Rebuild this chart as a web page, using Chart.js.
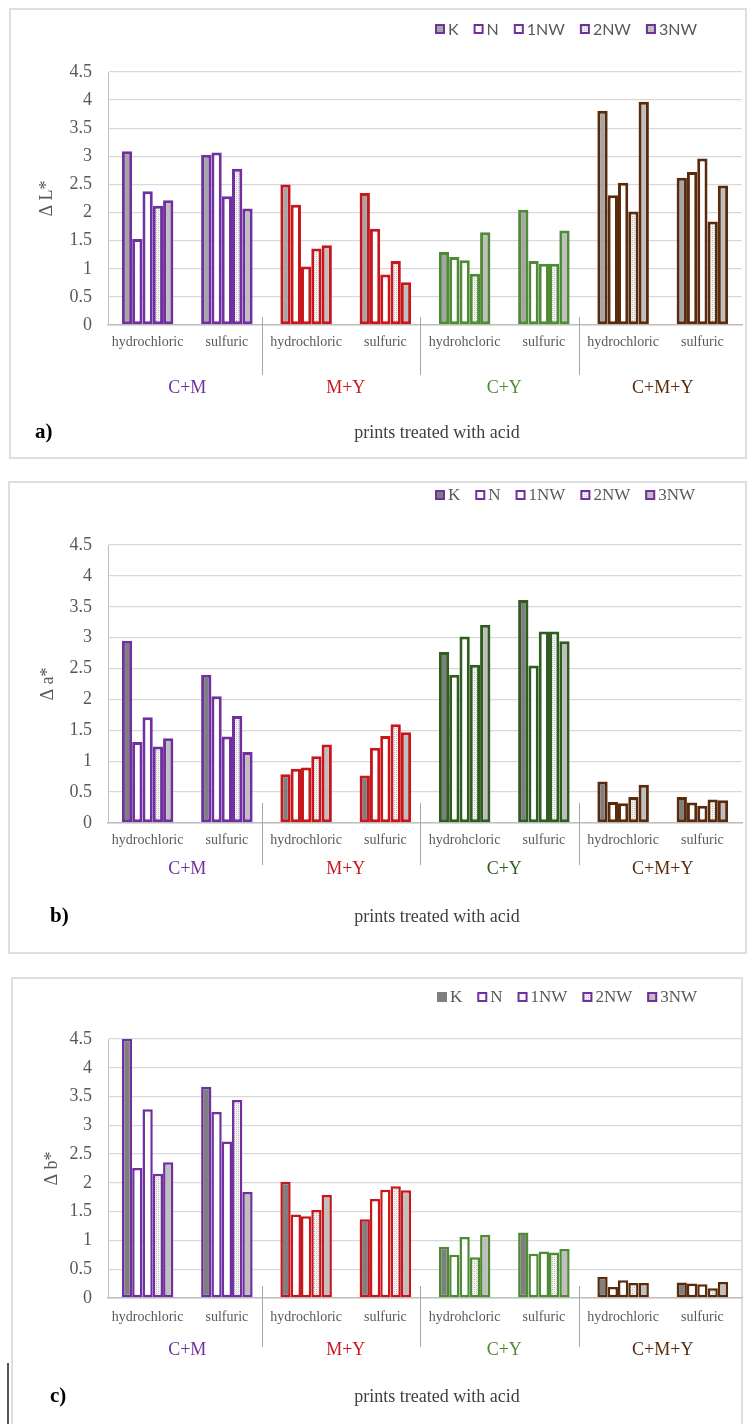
<!DOCTYPE html>
<html>
<head>
<meta charset="utf-8">
<script src="https://cdn.jsdelivr.net/npm/chart.js@4.4.1/dist/chart.umd.min.js"></script>
<style>
  body { margin: 0; background: #fff; width: 748px; height: 1424px; position: relative; overflow: hidden; }
  .panel { position: absolute; border: 2px solid #dedede; box-sizing: border-box; }
  canvas { position: absolute; left: 0; }
  .mark { position: absolute; left: 7px; top: 1363px; width: 2px; height: 61px; background: #555; }
</style>
</head>
<body>
<div class="panel" style="left:9px;top:8px;width:738px;height:451px;"></div>
<div class="panel" style="left:8px;top:481px;width:739px;height:473px;"></div>
<div class="panel" style="left:11px;top:977px;width:732px;height:470px;"></div>
<div class="mark"></div>
<canvas id="chart-a" width="748" height="450" style="top:8px;"></canvas>
<canvas id="chart-b" width="748" height="471" style="top:482px;"></canvas>
<canvas id="chart-c" width="748" height="447" style="top:977px;"></canvas>
<script>
/* Colour change of prints treated with acid: ΔL*, Δa*, Δb* */

var CATEGORIES = ['hydrochloric', 'sulfuric', 'hydrochloric', 'sulfuric',
                  'hydrohcloric', 'sulfuric', 'hydrochloric', 'sulfuric'];
var GROUPS = ['C+M', 'M+Y', 'C+Y', 'C+M+Y'];
var SERIES = ['K', 'N', '1NW', '2NW', '3NW'];
var Y_MAX = 4.5;
var Y_STEP = 0.5;

// a) ΔL*
var DL_K   = [3.09, 3.03, 2.50, 2.35, 1.30, 2.05, 3.81, 2.62];
var DL_N   = [1.53, 3.07, 2.14, 1.71, 1.21, 1.14, 2.31, 2.72];
var DL_1NW = [2.38, 2.29, 1.04, 0.90, 1.15, 1.09, 2.53, 2.96];
var DL_2NW = [2.12, 2.78, 1.36, 1.14, 0.91, 1.09, 2.02, 1.84];
var DL_3NW = [2.22, 2.07, 1.42, 0.76, 1.65, 1.68, 3.97, 2.48];

// b) Δa*
var DA_K   = [2.95, 2.40, 0.79, 0.77, 2.77, 3.61, 0.67, 0.42];
var DA_N   = [1.31, 2.05, 0.88, 1.22, 2.40, 2.55, 0.34, 0.33];
var DA_1NW = [1.71, 1.40, 0.90, 1.41, 3.02, 3.10, 0.32, 0.28];
var DA_2NW = [1.24, 1.73, 1.08, 1.60, 2.56, 3.10, 0.42, 0.38];
var DA_3NW = [1.37, 1.15, 1.27, 1.47, 3.21, 2.94, 0.62, 0.37];

// c) Δb*
var DB_K   = [4.50, 3.67, 2.02, 1.37, 0.89, 1.14, 0.37, 0.27];
var DB_N   = [2.26, 3.23, 1.45, 1.72, 0.75, 0.77, 0.19, 0.25];
var DB_1NW = [3.28, 2.72, 1.42, 1.88, 1.06, 0.81, 0.31, 0.24];
var DB_2NW = [2.16, 3.44, 1.53, 1.94, 0.71, 0.79, 0.26, 0.17];
var DB_3NW = [2.36, 1.84, 1.79, 1.87, 1.10, 0.85, 0.26, 0.28];

var SERIF = '"Liberation Serif", "DejaVu Serif", serif';
var PURPLE = '#7030a0';
var TEXT = '#595959';

function makeHatch() {
    var c = document.createElement('canvas');
    c.width = 4; c.height = 4;
    var g = c.getContext('2d');
    g.fillStyle = '#f4f4f4';
    g.fillRect(0, 0, 4, 4);
    g.fillStyle = '#b4b4b4';
    g.fillRect(0, 0, 1, 1);
    g.fillRect(2, 2, 1, 1);
    g.fillStyle = '#d4d4d4';
    g.fillRect(2, 0, 1, 1);
    g.fillRect(0, 2, 1, 1);
    return g.createPattern(c, 'repeat');
}
var HATCH = makeHatch();

var panelDeco = {
    id: 'panelDeco',
    afterDraw: function(chart, args, o) {
        var ctx = chart.ctx;
        var xs = chart.scales.x;
        var area = chart.chartArea;
        ctx.save();

        // separators between groups
        ctx.strokeStyle = '#a6a6a6';
        ctx.lineWidth = 1;
        for (var g = 0; g < GROUPS.length - 1; g++) {
            var sx = Math.round((xs.getPixelForValue(2 * g + 1) + xs.getPixelForValue(2 * g + 2)) / 2 - 5) + 0.5;
            ctx.beginPath();
            ctx.moveTo(sx, area.bottom + o.sepTop);
            ctx.lineTo(sx, area.bottom + o.sepBottom);
            ctx.stroke();
        }

        // group labels
        ctx.textAlign = 'center';
        ctx.textBaseline = 'middle';
        ctx.font = '18px ' + SERIF;
        GROUPS.forEach(function(name, i) {
            var gx = (xs.getPixelForValue(2 * i) + xs.getPixelForValue(2 * i + 1)) / 2;
            ctx.fillStyle = o.colors[i];
            ctx.fillText(name, gx, o.groupY);
        });

        // axis caption and panel letter
        ctx.fillStyle = '#404040';
        ctx.font = '18px ' + SERIF;
        ctx.fillText('prints treated with acid', o.capX, o.capY);
        ctx.textAlign = 'left';
        ctx.fillStyle = '#000';
        ctx.font = 'bold 21px ' + SERIF;
        ctx.fillText(o.letter, o.letterX, o.capY);

        // y title
        ctx.save();
        ctx.translate(o.titleX, (area.top + area.bottom) / 2);
        ctx.rotate(-Math.PI / 2);
        ctx.textAlign = 'center';
        ctx.fillStyle = TEXT;
        ctx.font = '18px ' + SERIF;
        ctx.fillText(o.title, 0, 0);
        ctx.restore();

        // legend
        var lx = o.legendX;
        ctx.font = o.legendFont;
        ctx.textAlign = 'left';
        chart.data.datasets.forEach(function(ds, i) {
            var bx = lx, by = o.legendY - 5;
            ctx.fillStyle = ds.backgroundColor;
            ctx.fillRect(bx, by, 10, 10);
            if (i > 0 || o.kBorder) {
                ctx.strokeStyle = PURPLE;
                ctx.lineWidth = 2;
                ctx.strokeRect(bx + 1, by + 1, 8, 8);
            }
            ctx.fillStyle = TEXT;
            ctx.fillText(ds.label, bx + 13, o.legendY + 1);
            lx = bx + 13 + ctx.measureText(ds.label).width + 15;
        });

        ctx.restore();
    }
};

function buildDatasets(values, kFill, colors, bw) {
    var borders = [];
    colors.forEach(function(c) { borders.push(c, c); });
    var fills = [kFill, '#ffffff', '#ffffff', HATCH, '#bfbfbf'];
    return SERIES.map(function(name, i) {
        return {
            label: name,
            data: values[i],
            backgroundColor: fills[i],
            borderColor: borders,
            borderWidth: bw,
            borderSkipped: false,
            categoryPercentage: 0.65,
            barPercentage: 1.0
        };
    });
}

function makeChart(id, cfg) {
    var canvas = document.getElementById(id);
    var h = canvas.height;
    new Chart(canvas, {
        type: 'bar',
        data: {
            labels: CATEGORIES,
            datasets: buildDatasets(cfg.values, cfg.kFill, cfg.deco.colors, cfg.bw)
        },
        options: {
            responsive: false,
            animation: false,
            devicePixelRatio: 1,
            layout: { padding: { top: cfg.top, right: 6, left: 0, bottom: 0 } },
            plugins: {
                legend: { display: false },
                tooltip: { enabled: false },
                panelDeco: cfg.deco
            },
            scales: {
                x: {
                    grid: { display: false, drawTicks: false },
                    border: { display: true, color: '#bfbfbf', width: 1.5 },
                    ticks: {
                        autoSkip: false, maxRotation: 0, padding: cfg.xPad,
                        color: TEXT, font: { family: SERIF, size: 14 }
                    },
                    afterFit: function(s) { s.height = h - cfg.bottom; }
                },
                y: {
                    min: 0, max: Y_MAX,
                    ticks: {
                        stepSize: Y_STEP, padding: 16, color: TEXT,
                        font: { family: SERIF, size: 18 },
                        callback: function(v) { return String(Math.round(v * 10) / 10); }
                    },
                    grid: { color: '#d9d9d9', lineWidth: 1.3, drawTicks: false },
                    border: { display: true, color: '#bfbfbf', width: 1 },
                    afterFit: function(s) { s.width = 108; }
                }
            }
        },
        plugins: [panelDeco]
    });
}

makeChart('chart-a', {
    values: [DL_K, DL_N, DL_1NW, DL_2NW, DL_3NW],
    kFill: '#a6a6a6', bw: 3, top: 64, bottom: 317, xPad: 9,
    deco: {
        colors: [PURPLE, '#c8161d', '#4f8a35', '#5a2a0c'],
        letter: 'a)', letterX: 35, capX: 437, capY: 425, groupY: 380,
        sepTop: -8, sepBottom: 50, title: 'Δ L*', titleX: 47,
        legendX: 435, legendY: 21, legendFont: '16px Lato', kBorder: true
    }
});

makeChart('chart-b', {
    values: [DA_K, DA_N, DA_1NW, DA_2NW, DA_3NW],
    kFill: '#7f7f7f', bw: 3, top: 63, bottom: 341, xPad: 9,
    deco: {
        colors: [PURPLE, '#c8161d', '#2f5d1f', '#5a2a0c'],
        letter: 'b)', letterX: 50, capX: 437, capY: 435, groupY: 387,
        sepTop: -20, sepBottom: 42, title: 'Δ a*', titleX: 48,
        legendX: 435, legendY: 13, legendFont: '17px ' + SERIF, kBorder: true
    }
});

makeChart('chart-c', {
    values: [DB_K, DB_N, DB_1NW, DB_2NW, DB_3NW],
    kFill: '#7f7f7f', bw: 2.5, top: 62, bottom: 321, xPad: 11,
    deco: {
        colors: [PURPLE, '#c8161d', '#4f8a35', '#5a2a0c'],
        letter: 'c)', letterX: 50, capX: 437, capY: 420, groupY: 373,
        sepTop: -12, sepBottom: 49, title: 'Δ b*', titleX: 52,
        legendX: 437, legendY: 20, legendFont: '17px ' + SERIF, kBorder: false
    }
});
</script>
</body>
</html>
